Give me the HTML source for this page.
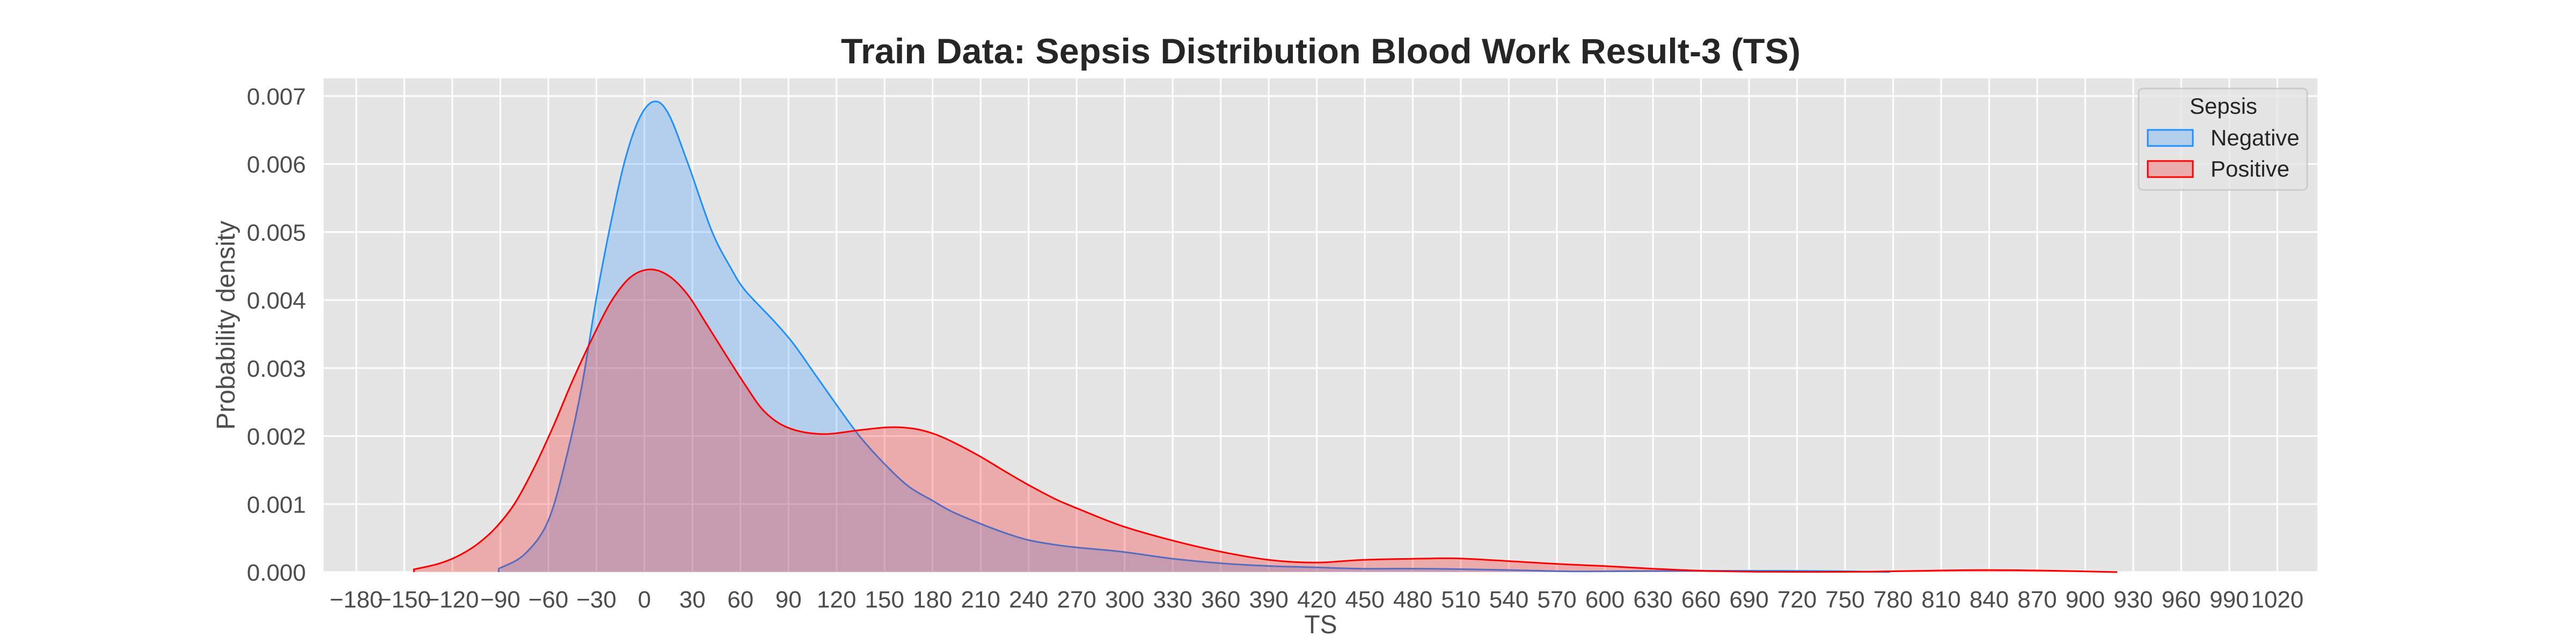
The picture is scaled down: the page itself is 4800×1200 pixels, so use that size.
<!DOCTYPE html>
<html><head><meta charset="utf-8"><style>
html,body{margin:0;padding:0;background:#fff}
svg{display:block;font-family:"Liberation Sans",Arial,sans-serif}
</style></head><body>
<svg id="chart" width="4800" height="1200" viewBox="0 0 4800 1200" xmlns="http://www.w3.org/2000/svg">
<text x="2461" y="118" text-anchor="middle" font-size="66" font-weight="bold" fill="#262626" textLength="1788" lengthAdjust="spacingAndGlyphs">Train Data: Sepsis Distribution Blood Work Result-3 (TS)</text>
<rect x="603" y="146" width="3715" height="920" fill="#e5e5e5"/>
<g id="grid"></g>
<g id="series"></g>
<g id="xticks"></g>
<g id="yticks"></g>
<text x="2461" y="1180" text-anchor="middle" font-size="48" fill="#4d4d4d">TS</text>
<text transform="translate(437,606) rotate(-90)" text-anchor="middle" font-size="48" fill="#4d4d4d">Probability density</text>
<g>
<rect x="3985" y="165" width="314" height="189" rx="8" fill="#e5e5e5" fill-opacity="0.8" stroke="#cccccc" stroke-width="3"/>
<text x="4143" y="212" text-anchor="middle" font-size="42" fill="#262626">Sepsis</text>
<rect x="4002" y="242" width="84" height="30" fill="#b3cfec" stroke="#1e90ff" stroke-width="3"/>
<text x="4119" y="271" font-size="42" fill="#262626">Negative</text>
<rect x="4002" y="300" width="84" height="30" fill="#ebacac" stroke="#ff0000" stroke-width="3"/>
<text x="4119" y="329" font-size="42" fill="#262626">Positive</text>
</g>
</svg>
<script>
const xTicks = [-180,-150,-120,-90,-60,-30,0,30,60,90,120,150,180,210,240,270,300,330,360,390,420,450,480,510,540,570,600,630,660,690,720,750,780,810,840,870,900,930,960,990,1020];
const yTicks = [0,0.001,0.002,0.003,0.004,0.005,0.006,0.007];
const yTickLabels = ["0.000","0.001","0.002","0.003","0.004","0.005","0.006","0.007"];
const negX = [-91,-75,-60,-48,-39,-30,-21,-12,-3,6,15,27,42,54,63,81,93,108,123,135,150,165,180,192,209,226,240,257,271,298,329,360,390,419,449,490,541,579,620,660,700,740,778];
const negY = [0.05,0.26,0.76,1.76,2.75,4.03,5.13,6.07,6.68,6.92,6.74,6.02,5.02,4.47,4.14,3.69,3.36,2.86,2.36,1.98,1.59,1.26,1.05,0.89,0.72,0.57,0.47,0.40,0.36,0.30,0.20,0.13,0.09,0.07,0.05,0.05,0.03,0.01,0.015,0.02,0.02,0.015,0.0];
const posX = [-144,-129,-117,-105,-93,-81,-69,-57,-45,-33,-21,-9,3,15,27,39,51,63,75,90,111,135,153,168,180,192,209,226,240,257,271,298,329,360,390,419,449,490,510,541,570,599,630,661,700,760,800,840,880,920];
const posY = [0.04,0.12,0.23,0.40,0.65,1.01,1.53,2.14,2.81,3.42,3.97,4.33,4.45,4.36,4.08,3.64,3.19,2.75,2.36,2.12,2.03,2.09,2.13,2.11,2.04,1.92,1.71,1.47,1.28,1.07,0.93,0.68,0.47,0.30,0.18,0.14,0.18,0.20,0.20,0.16,0.12,0.09,0.05,0.02,0.005,0.005,0.02,0.03,0.02,0.0];

const NS = "http://www.w3.org/2000/svg";
const X0 = 603, X1 = 4318, Y0 = 1066, Y1 = 146;
const xMin = -200.4, xMax = 1045, yMin = 0, yMax = 0.00726;
function sx(v){ return X0 + (v - xMin) / (xMax - xMin) * (X1 - X0); }
function sy(v){ return Y0 - (v - yMin) / (yMax - yMin) * (Y0 - Y1); }
function mk(tag, attrs, parent){ const e = document.createElementNS(NS, tag); for (const k in attrs) e.setAttribute(k, attrs[k]); parent.appendChild(e); return e; }

const grid = document.getElementById('grid');
xTicks.forEach(t => {
  const l = mk('line', {x1: sx(t), x2: sx(t), y1: Y1, y2: Y0, stroke: '#fff', 'stroke-width': 3}, grid);
  
  
});
yTicks.forEach(t => {
  const l = mk('line', {x1: X0, x2: X1, y1: sy(t), y2: sy(t), stroke: '#fff', 'stroke-width': 3}, grid);
  
  
});
const xt = document.getElementById('xticks');
xTicks.forEach(t => {
  const e = mk('text', {x: sx(t), y: 1132, 'text-anchor': 'middle', 'font-size': 44, fill: '#4d4d4d'}, xt);
  e.textContent = t < 0 ? '\u2212' + Math.abs(t) : String(t);
  
  
});
const yt = document.getElementById('yticks');
yTicks.forEach((t, i) => {
  const e = mk('text', {x: 570, y: sy(t) + 16, 'text-anchor': 'end', 'font-size': 44, fill: '#4d4d4d'}, yt);
  e.textContent = yTickLabels[i];
  
  
});

function smoothPath(xs, ys){
  const p = xs.map((x, i) => [sx(x), sy(ys[i] / 1000)]);
  let d = 'M' + p[0][0].toFixed(1) + ',' + p[0][1].toFixed(1);
  for (let i = 0; i < p.length - 1; i++){
    const a = p[Math.max(0, i - 1)], b = p[i], c = p[i + 1], e = p[Math.min(p.length - 1, i + 2)];
    const c1x = b[0] + (c[0] - a[0]) / 6, c1y = b[1] + (c[1] - a[1]) / 6;
    const c2x = c[0] - (e[0] - b[0]) / 6, c2y = c[1] - (e[1] - b[1]) / 6;
    d += 'C' + c1x.toFixed(1) + ',' + Math.min(c1y, Y0).toFixed(1) + ' ' + c2x.toFixed(1) + ',' + Math.min(c2y, Y0).toFixed(1) + ' ' + c[0].toFixed(1) + ',' + c[1].toFixed(1);
  }
  return {d: d, first: p[0], last: p[p.length - 1]};
}
const series = document.getElementById('series');
function drawSeries(xs, ys, color, name){
  const sp = smoothPath(xs, ys);
  const area = mk('path', {d: sp.d + 'L' + sp.last[0].toFixed(1) + ',' + Y0 + 'L' + sp.first[0].toFixed(1) + ',' + Y0 + 'Z', fill: color, 'fill-opacity': 0.25, stroke: 'none'}, series);
  
  
  const line = mk('path', {d: 'M' + sp.first[0].toFixed(1) + ',' + Y0 + 'L' + sp.d.slice(1) + 'L' + sp.last[0].toFixed(1) + ',' + Y0, fill: 'none', stroke: color, 'stroke-width': 3}, series);
  
  
}
drawSeries(negX, negY, '#1e90ff', 'negative');
drawSeries(posX, posY, '#ff0000', 'positive');
</script>
</body></html>
